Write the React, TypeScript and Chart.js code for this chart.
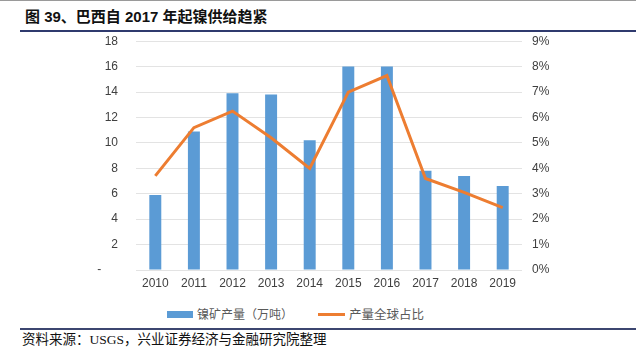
import React, { useEffect, useRef } from "react";
import { Chart, registerables } from "chart.js";

Chart.register(...registerables);

const years = ["2010", "2011", "2012", "2013", "2014", "2015", "2016", "2017", "2018", "2019"];
const output = [5.9, 10.9, 13.9, 13.8, 10.2, 16.0, 16.0, 7.8, 7.4, 6.6];
const share = [3.7, 5.6, 6.25, 5.2, 4.0, 7.0, 7.65, 3.6, 3.05, 2.45];
const leftTicks = [0, 2, 4, 6, 8, 10, 12, 14, 16, 18];
const rightTicks = [0, 1, 2, 3, 4, 5, 6, 7, 8, 9];

const barLabel = "镍矿产量（万吨）";
const lineLabel = "产量全球占比";
const title = "图 39、巴西自 2017 年起镍供给趋紧";
const source = "资料来源：USGS，兴业证券经济与金融研究院整理";

const BLUE = "#5b9bd5";
const ORANGE = "#ed7d31";
const TICK = "#404040";
const GRID = "#e3e3e3";
const FONT = "'Liberation Sans', Arial, sans-serif";

export default function App() {
  const ref = useRef<HTMLCanvasElement | null>(null);

  useEffect(() => {
    if (!ref.current) return;
    const chart = new Chart(ref.current, {
      type: "bar",
      data: {
        labels: years,
        datasets: [
          {
            type: "line",
            label: lineLabel,
            data: share,
            yAxisID: "y1",
            borderColor: ORANGE,
            backgroundColor: ORANGE,
            borderWidth: 3,
            pointRadius: 0,
            tension: 0,
            order: 1,
          } as any,
          {
            type: "bar",
            label: barLabel,
            data: output,
            yAxisID: "y",
            backgroundColor: BLUE,
            borderWidth: 0,
            categoryPercentage: 1,
            barPercentage: 0.31,
            order: 2,
          } as any,
        ],
      },
      options: {
        responsive: false,
        animation: false,
        layout: { padding: { top: 8, left: 0, right: 0, bottom: 0 } },
        plugins: { legend: { display: false }, tooltip: { enabled: false } },
        scales: {
          x: {
            grid: { display: false, drawTicks: false },
            border: { display: false },
            ticks: { color: TICK, font: { family: FONT, size: 12 }, padding: 6, maxRotation: 0 },
            afterFit: (s: any) => { s.height = 30; },
          },
          y: {
            position: "left",
            min: 0,
            max: 18,
            afterBuildTicks: (s: any) => { s.ticks = leftTicks.map((v) => ({ value: v })); },
            grid: { color: GRID, lineWidth: 1, drawTicks: false },
            border: { display: false },
            ticks: {
              color: TICK,
              font: { family: FONT, size: 12 },
              padding: 18,
              callback: (v: any) => (Number(v) === 0 ? "-     " : String(v)),
            },
            afterFit: (s: any) => { s.width = 136; },
          },
          y1: {
            position: "right",
            min: 0,
            max: 9,
            afterBuildTicks: (s: any) => { s.ticks = rightTicks.map((v) => ({ value: v })); },
            grid: { display: false, drawTicks: false },
            border: { display: false },
            ticks: {
              color: TICK,
              font: { family: FONT, size: 12 },
              padding: 10,
              callback: (v: any) => v + "%",
            },
            afterFit: (s: any) => { s.width = 114; },
          },
        },
      } as any,
    });
    return () => chart.destroy();
  }, []);

  const cjk = "'Noto Sans CJK SC', sans-serif";
  return (
    <div style={{ position: "absolute", left: 0, top: 0, width: 636, height: 361, background: "#fff", overflow: "hidden" }}>
      <div style={{ position: "absolute", left: 0, top: 0, width: 636, height: 1, background: "#9a9a9a" }} />
      <div style={{ position: "absolute", left: 25, top: 6, fontFamily: "'Liberation Sans', " + cjk, fontWeight: 700, fontSize: 15, color: "#111", whiteSpace: "nowrap", lineHeight: "22px" }}>
        {title}
      </div>
      <div style={{ position: "absolute", left: 20, top: 30, width: 616, height: 2, background: "#2f3a6e" }} />
      <canvas ref={ref} width={636} height={284} style={{ position: "absolute", left: 0, top: 16, width: 636, height: 284 }} />
      <div style={{ position: "absolute", left: 167, top: 311, width: 26, height: 7, background: BLUE }} />
      <div style={{ position: "absolute", left: 197, top: 305, fontFamily: cjk, fontSize: 12, color: "#595959", whiteSpace: "nowrap", lineHeight: "18px" }}>
        {barLabel}
      </div>
      <div style={{ position: "absolute", left: 318, top: 313, width: 27, height: 3, background: ORANGE }} />
      <div style={{ position: "absolute", left: 349, top: 305, fontFamily: cjk, fontSize: 12.5, color: "#595959", whiteSpace: "nowrap", lineHeight: "18px" }}>
        {lineLabel}
      </div>
      <div style={{ position: "absolute", left: 20, top: 328, width: 616, height: 2, background: "#3c4670" }} />
      <div style={{ position: "absolute", left: 22, top: 331, fontFamily: "'Liberation Serif', " + cjk, fontSize: 13.5, color: "#111", whiteSpace: "nowrap", lineHeight: "18px" }}>
        {source}
      </div>
    </div>
  );
}
